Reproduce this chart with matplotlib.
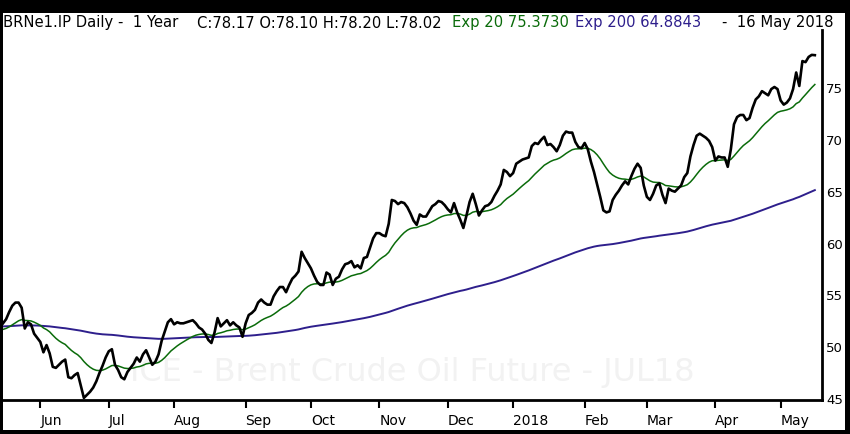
import matplotlib.pyplot as plt
import matplotlib.patches as mpatches
import pandas as pd

# daily closes, BRNe1.IP (16 May 2017 - 16 May 2018)
close = [
    52.3, 52.7, 53.4, 54.0, 54.3, 54.3, 53.8, 51.8, 52.4, 52.2,
    51.3, 50.9, 50.5, 49.5, 50.2, 49.4, 48.1, 48.0, 48.3, 48.6,
    48.8, 47.1, 47.0, 47.3, 47.5, 46.3, 45.1, 45.4, 45.7, 46.1,
    46.7, 47.5, 48.2, 49.0, 49.6, 49.8, 48.3, 47.8, 47.1, 46.9,
    47.6, 48.0, 48.4, 49.0, 48.6, 49.3, 49.7, 49.0, 48.3, 48.6,
    49.3, 50.6, 51.5, 52.4, 52.7, 52.2, 52.4, 52.3, 52.3, 52.4,
    52.5, 52.6, 52.3, 51.9, 51.7, 51.3, 50.7, 50.4, 51.4, 52.8,
    52.0, 52.3, 52.6, 52.1, 52.4, 52.1, 51.9, 51.0, 52.3, 53.1,
    53.3, 53.6, 54.3, 54.6, 54.3, 54.1, 54.1, 54.9, 55.4, 55.8,
    55.8, 55.3, 56.0, 56.6, 56.9, 57.3, 59.2, 58.6, 58.1, 57.6,
    56.9, 56.3, 56.0, 56.0, 57.2, 57.0, 56.0, 56.6, 56.8, 57.5,
    58.0, 58.1, 58.3, 57.7, 57.9, 57.6, 58.6, 58.7, 59.6, 60.5,
    61.0, 61.0, 60.8, 60.7, 61.9, 64.2, 64.1, 63.8, 64.0, 63.9,
    63.5, 62.9, 62.2, 61.8, 62.8, 62.6, 62.6, 63.1, 63.6, 63.8,
    64.1, 64.0, 63.7, 63.3, 63.0, 63.9, 63.0, 62.3, 61.5, 62.7,
    64.0, 64.8, 63.8, 62.7, 63.2, 63.6, 63.7, 64.0, 64.6, 65.1,
    65.7, 67.1, 66.9, 66.5, 66.8, 67.7, 67.9, 68.1, 68.2,
    68.3, 69.4, 69.7, 69.6, 70.0, 70.3, 69.5, 69.6, 69.3, 68.9,
    69.5, 70.4, 70.8, 70.7, 70.7, 69.8, 69.3, 69.2, 69.7, 69.1,
    67.9, 66.9, 65.7, 64.5, 63.2, 63.0, 63.1, 64.2, 64.7, 65.1,
    65.6, 66.0, 65.7, 66.5, 67.2, 67.7, 67.3, 65.6, 64.5, 64.2,
    64.8, 65.6, 65.8, 64.7, 63.9, 65.3, 65.1, 65.0, 65.3, 65.6,
    66.4, 66.8, 68.4, 69.5, 70.4, 70.6, 70.4, 70.2, 69.9, 69.3,
    68.0, 68.4, 68.3, 68.3, 67.4, 69.1, 71.5, 72.2, 72.4, 72.4,
    71.9, 72.1, 73.1, 73.9, 74.2, 74.7, 74.5, 74.3, 74.9, 75.1,
    74.9, 73.8, 73.4, 73.6, 74.0, 74.9, 76.5, 75.2, 77.6, 77.5,
    78.0, 78.2, 78.17,
]
start_date = '2017-05-16'

# starting levels of the averages (they carry history from before the window)
ema20_seed = 51.65
ema200_seed = 52.0

y_ticks = [45, 50, 55, 60, 65, 70, 75]

GREEN = '#0a6b0a'
PURPLE = '#2e1f8c'


def ema(values, span, seed):
    alpha = 2.0 / (span + 1)
    out = []
    prev = seed
    for v in values:
        prev = prev + alpha * (v - prev)
        out.append(prev)
    return out


dates = pd.bdate_range(start=start_date, periods=len(close))
xs = list(range(len(close)))
ema20 = ema(close, 20, ema20_seed)
ema200 = ema(close, 200, ema200_seed)

# month ticks at the first trading day of each month
tick_pos = []
tick_lab = []
for i in range(1, len(dates)):
    if dates[i].month != dates[i - 1].month:
        tick_pos.append(i)
        tick_lab.append(str(dates[i].year) if dates[i].month == 1 else dates[i].strftime('%b'))

W, H = 850, 434
fig = plt.figure(figsize=(W / 100, H / 100), dpi=100, facecolor='black')

# white panel inside the black frame
panel = mpatches.Rectangle((3 / W, 4 / H), 842 / W, 417 / H, transform=fig.transFigure,
                           facecolor='white', edgecolor='none', zorder=-10)
fig.patches.append(panel)

ax = fig.add_axes([3 / W, 34 / H, 819 / W, 370 / H])
ax.set_zorder(5)
ax.set_facecolor('white')

ax.text(0.5, 0.075, 'ICE - Brent Crude Oil Future - JUL18', transform=ax.transAxes,
        ha='center', va='center', fontsize=23, color='#f2f2f2', zorder=0)

ax.plot(xs, ema200, color=PURPLE, lw=1.4, zorder=2)
ax.plot(xs, ema20, color=GREEN, lw=1.1, zorder=3)
ax.plot(xs, close, color='black', lw=1.9, zorder=4)

ax.set_xlim(0, len(close) - 1 + 2.3)
ax.set_ylim(44.9, 80.6)

ax.spines['top'].set_visible(False)
ax.spines['left'].set_visible(False)
ax.spines['right'].set_linewidth(2)
ax.spines['bottom'].set_linewidth(2)

ax.set_xticks(tick_pos)
ax.set_xticklabels(tick_lab, ha='left')
ax.tick_params(axis='x', direction='out', length=6, width=1.5, pad=4, labelsize=10)

ax.yaxis.tick_right()
ax.set_yticks(y_ticks)
ax.tick_params(axis='y', length=0, pad=3, labelsize=9.5)

# header line
ty = (H - 23) / H
fs = 10.6
fig.text(3 / W, ty, 'BRNe1.IP Daily -  1 Year', fontsize=fs, va='center', color='black')
fig.text(197 / W, ty, 'C:78.17 O:78.10 H:78.20 L:78.02', fontsize=fs, va='center', color='black')
fig.text(452 / W, ty, 'Exp 20 75.3730', fontsize=fs, va='center', color=GREEN)
fig.text(575 / W, ty, 'Exp 200 64.8843', fontsize=fs, va='center', color=PURPLE)
fig.text(722 / W, ty, '-  16 May 2018', fontsize=fs, va='center', color='black')

fig.savefig('out.png', dpi=100, facecolor='black')
